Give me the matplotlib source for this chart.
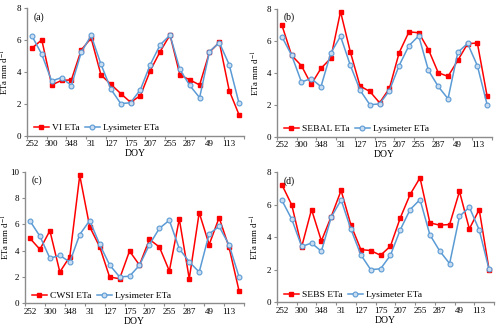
import matplotlib
matplotlib.use("Agg")
import matplotlib.pyplot as plt
import numpy as np

plt.rcParams['font.family'] = ['Liberation Serif', 'DejaVu Serif']
plt.rcParams['mathtext.fontset'] = 'stix'

doy_labels = ['252', '', '300', '', '348', '', '31', '', '127', '', '175', '',
              '207', '', '255', '', '287', '', '49', '', '113', '']

lysimeter = [6.26, 5.10, 3.43, 3.64, 3.14, 5.23, 6.29, 4.48, 2.92, 2.01, 2.06, 2.89,
             4.46, 5.70, 6.31, 4.15, 3.15, 2.38, 5.28, 5.84, 4.45, 2.02]
vi_eta = [5.49, 6.01, 3.18, 3.46, 3.50, 5.38, 6.12, 3.81, 3.22, 2.64, 2.09, 2.51,
          4.08, 5.28, 6.32, 3.81, 3.50, 3.18, 5.24, 5.86, 2.83, 1.30]
sebal_eta = [6.99, 5.09, 4.45, 3.28, 4.28, 4.91, 7.83, 5.32, 3.17, 2.84, 2.13, 3.03,
             5.26, 6.56, 6.51, 5.45, 4.01, 3.78, 4.78, 5.82, 5.87, 2.55]
cwsi_eta = [4.94, 4.10, 5.52, 2.38, 3.54, 9.72, 5.82, 4.30, 2.00, 1.87, 3.97, 2.91,
            4.86, 4.28, 2.46, 6.41, 1.87, 6.89, 4.46, 6.51, 4.25, 0.96]
sebs_eta = [7.22, 5.97, 3.41, 5.70, 3.77, 5.27, 6.87, 4.74, 3.24, 3.18, 2.89, 3.45,
            5.19, 6.63, 7.65, 4.88, 4.74, 4.78, 6.81, 4.51, 5.70, 2.01]

panels = [
    ('(a)', 'VI ETa', vi_eta, 8, [0.054, 0.588, 0.434, 0.387], -0.072),
    ('(b)', 'SEBAL ETa', sebal_eta, 8, [0.554, 0.584, 0.430, 0.389], -0.072),
    ('(c)', 'CWSI ETa', cwsi_eta, 10, [0.050, 0.078, 0.438, 0.400], -0.058),
    ('(d)', 'SEBS ETa', sebs_eta, 8, [0.554, 0.081, 0.434, 0.396], -0.072),
]

RED = '#FF0000'
BLUE = '#5B9BD5'
SPINE = '#8C8C8C'

fig = plt.figure(figsize=(5.0, 3.29), dpi=100)
x = np.arange(len(doy_labels))

for tag, name, vals, ymax, rect, ylab_x in panels:
    ax = fig.add_axes(rect)
    ax.plot(x, vals, color=RED, lw=1.1, marker='s', ms=2.9, mfc=RED, mec=RED,
            label=name, zorder=3)
    ax.plot(x, lysimeter, color=BLUE, lw=1.1, marker='o', ms=3.5, mfc='#C9DCF0',
            mec=BLUE, mew=0.8, label='Lysimeter ETa', zorder=4)
    ax.set_xlim(-0.5, len(x) - 0.5)
    ax.set_ylim(0, ymax)
    ax.set_yticks(np.arange(0, ymax + 0.1, 2))
    ax.set_xticks(x[::2])
    ax.set_xticklabels([doy_labels[i] for i in x[::2]])
    ax.set_xticks(np.arange(-0.5, len(x), 2), minor=True)
    ax.tick_params(axis='x', which='major', length=0, labelsize=6.5, pad=3)
    ax.tick_params(axis='x', which='minor', length=2.2, width=0.8, color=SPINE)
    ax.tick_params(axis='y', length=2.2, width=0.8, color=SPINE, labelsize=6.5, pad=2)
    for s in ['top', 'right']:
        ax.spines[s].set_visible(False)
    for s in ['left', 'bottom']:
        ax.spines[s].set_color(SPINE)
        ax.spines[s].set_linewidth(1.0)
    ax.set_xlabel('DOY', fontsize=7, labelpad=1)
    ax.set_ylabel('ETa mm d$^{-1}$', fontsize=6.3)
    ax.yaxis.set_label_coords(ylab_x, 0.5)
    ax.text(0.03, 0.97, tag, transform=ax.transAxes, fontsize=7, va='top', ha='left')
    ax.legend(loc='lower left', ncol=2, frameon=False, fontsize=6.8,
              handlelength=1.6, handletextpad=0.3, columnspacing=0.6,
              borderaxespad=0.3, bbox_to_anchor=(0.0, -0.025))

fig.savefig('out.png', dpi=100)
